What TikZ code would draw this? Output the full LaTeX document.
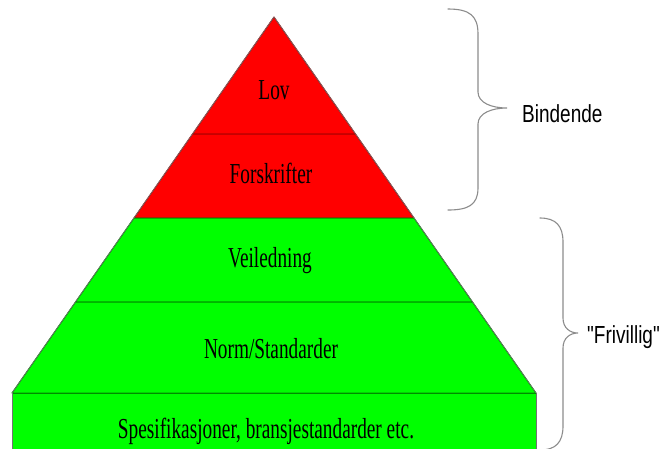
\documentclass[tikz,border=0pt]{standalone}
\usepackage{fontspec}
\setmainfont{Liberation Serif}
\newfontfamily\labelsans{Liberation Sans}
\definecolor{lawred}{RGB}{255,0,0}
\definecolor{lawredline}{RGB}{170,0,0}
\definecolor{volgreen}{RGB}{0,255,0}
\definecolor{volgreenline}{RGB}{0,140,0}
\definecolor{braceline}{RGB}{140,140,140}
\newcommand{\tallserif}[1]{\scalebox{1}[1.5]{\fontsize{19.3}{20}\selectfont #1}}
\newcommand{\tallsans}[1]{\scalebox{1}[1.3]{\labelsans\fontsize{19}{20}\selectfont #1}}
\begin{document}
\begin{tikzpicture}[x=1pt,y=-1pt,
  redtier/.style={fill=lawred,draw=lawredline,line width=1pt,line join=round},
  greentier/.style={fill=volgreen,draw=volgreenline,line width=1pt,line join=round},
  edge/.style={draw=black!55,line width=0.6pt},
  tierlabel/.style={inner sep=0pt,anchor=base},
  sidelabel/.style={inner sep=0pt,anchor=base west},
  bracestroke/.style={draw=braceline,line width=1.1pt,line cap=round}]
\useasboundingbox (0,0) rectangle (661,448);
\clip (0,0) rectangle (661,448);

% pyramid tiers, apex at (274,17), left slope reaches x=12 at y=393
\coordinate (apex) at (274,17);
\coordinate (l1) at (192.5,134); \coordinate (r1) at (355.5,134);
\coordinate (l2) at (134,218);   \coordinate (r2) at (414,218);
\coordinate (l3) at (75.5,302);  \coordinate (r3) at (472.5,302);
\coordinate (l4) at (12,393);    \coordinate (r4) at (536,393);
\coordinate (b4l) at (12,460);   \coordinate (b4r) at (536,460);

\path[redtier] (apex) -- (r1) -- (l1) -- cycle;
\path[redtier] (l1) -- (r1) -- (r2) -- (l2) -- cycle;
\path[greentier] (l2) -- (r2) -- (r3) -- (l3) -- cycle;
\path[greentier] (l3) -- (r3) -- (r4) -- (l4) -- cycle;
\path[greentier] (l4) -- (r4) -- (b4r) -- (b4l) -- cycle;

% thin outer outline of the slanted sides
\draw[edge] (l4) -- (apex) -- (r4);
\draw[edge] (l4) -- (b4l);
\draw[edge] (r4) -- (b4r);

% tier labels
\node[tierlabel] (lov) at (274,99) {\tallserif{Lov}};
\node[tierlabel] (forskrifter) at (271,183) {\tallserif{Forskrifter}};
\node[tierlabel] (veiledning) at (270,267) {\tallserif{Veiledning}};
\node[tierlabel] (norm) at (271,358) {\tallserif{Norm/Standarder}};
\node[tierlabel] (spesifikasjoner) at (266,438) {\tallserif{Spesifikasjoner, bransjestandarder etc.}};

% braces
\draw[bracestroke] (448,9) .. controls (470,9) and (478,16) .. (478,34)
  -- (478,92) .. controls (478,103) and (492,108) .. (507,108)
  .. controls (492,108) and (478,113) .. (478,124)
  -- (478,188) .. controls (478,205) and (468,210) .. (448,210);
\draw[bracestroke] (540,218) .. controls (556,218) and (563,226) .. (563,242)
  -- (563,318) .. controls (563,328) and (570,333) .. (578,333)
  .. controls (570,333) and (563,338) .. (563,348)
  -- (563,426) .. controls (563,442) and (556,450) .. (540,450);

% brace labels
\node[sidelabel] (bindende) at (522,122) {\tallsans{Bindende}};
\node[sidelabel] (frivillig) at (587,343) {\tallsans{"Frivillig"}};
\end{tikzpicture}
\end{document}
